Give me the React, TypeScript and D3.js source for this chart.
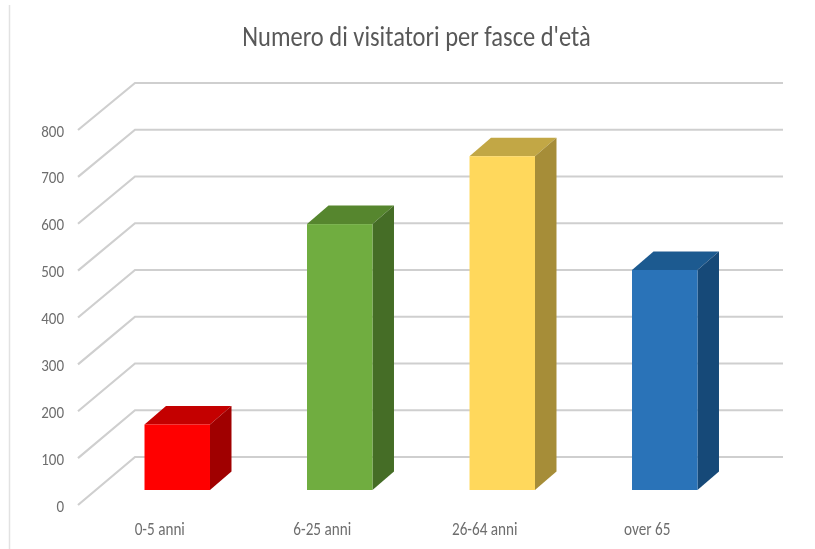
import React from "react";
import * as d3 from "d3";

const title = "Numero di visitatori per fasce d'età";
const categories = ["0-5 anni", "6-25 anni", "26-64 anni", "over 65"];
const values = [140, 568, 713, 470];
const frontColors = ["#ff0000", "#70ad40", "#ffd85c", "#2a73b8"];
const topColors = ["#c40000", "#56862f", "#c2a744", "#1f5a90"];
const sideColors = ["#a00000", "#456d27", "#a68d38", "#194a78"];
const ticks = [0, 100, 200, 300, 400, 500, 600, 700, 800];

const FONT = "Carlito, Lato, 'Open Sans', sans-serif";
const depthX = 21.5;
const depthY = 18.5;
const stretch = 1.14;

function Label(props: { x: number; y: number; size: number; anchor: string; fill: string; children: React.ReactNode }) {
  return (
    <text
      transform={`translate(${props.x},${props.y}) scale(1,${stretch})`}
      textAnchor={props.anchor}
      fontFamily={FONT}
      fontSize={props.size}
      fill={props.fill}
    >
      {props.children}
    </text>
  );
}

export default function App() {
  const yBack = d3.scaleLinear().domain([0, 800]).range([457, 83]);
  const yFront = d3.scaleLinear().domain([0, 800]).range([505, 130]);
  const yBar = d3.scaleLinear().domain([0, 800]).range([490, 115.5]);
  const x = d3.scaleBand<string>().domain(categories).range([96, 746]).paddingInner(0.597).paddingOuter(0.2985);

  return (
    <svg width={815} height={549} style={{ position: "absolute", left: 0, top: 0, background: "#fff" }}>
      <defs>
        <filter id="soft" x="-5%" y="-5%" width="110%" height="110%">
          <feGaussianBlur stdDeviation="0.65" />
        </filter>
      </defs>
      <g filter="url(#soft)">
        <line x1={9.5} x2={9.5} y1={5} y2={549} stroke="#e2e2e2" strokeWidth={1.5} />
        <Label x={416.5} y={46} size={24.5} anchor="middle" fill="#595959">{title}</Label>
        {ticks.map((t) => (
          <g key={t}>
            <polyline
              points={`78,${yFront(t)} 135,${yBack(t)} 783,${yBack(t)}`}
              fill="none"
              stroke="#cfcfcf"
              strokeWidth={2.2}
            />
            <Label x={64} y={yFront(t) + 6.5} size={15} anchor="end" fill="#6e6e6e">{t}</Label>
          </g>
        ))}
        {categories.map((c, i) => {
          const x0 = x(c) as number;
          const w = x.bandwidth();
          const top = yBar(values[i]);
          const base = yBar(0);
          return (
            <g key={c}>
              <polygon
                points={`${x0},${top} ${x0 + depthX},${top - depthY} ${x0 + w + depthX},${top - depthY} ${x0 + w},${top}`}
                fill={topColors[i]}
              />
              <polygon
                points={`${x0 + w},${top} ${x0 + w + depthX},${top - depthY} ${x0 + w + depthX},${base - depthY} ${x0 + w},${base}`}
                fill={sideColors[i]}
              />
              <rect x={x0} y={top} width={w} height={base - top} fill={frontColors[i]} />
              <Label x={x0 + w / 2 - 17.5} y={534.5} size={15.2} anchor="middle" fill="#6e6e6e">{c}</Label>
            </g>
          );
        })}
      </g>
    </svg>
  );
}
